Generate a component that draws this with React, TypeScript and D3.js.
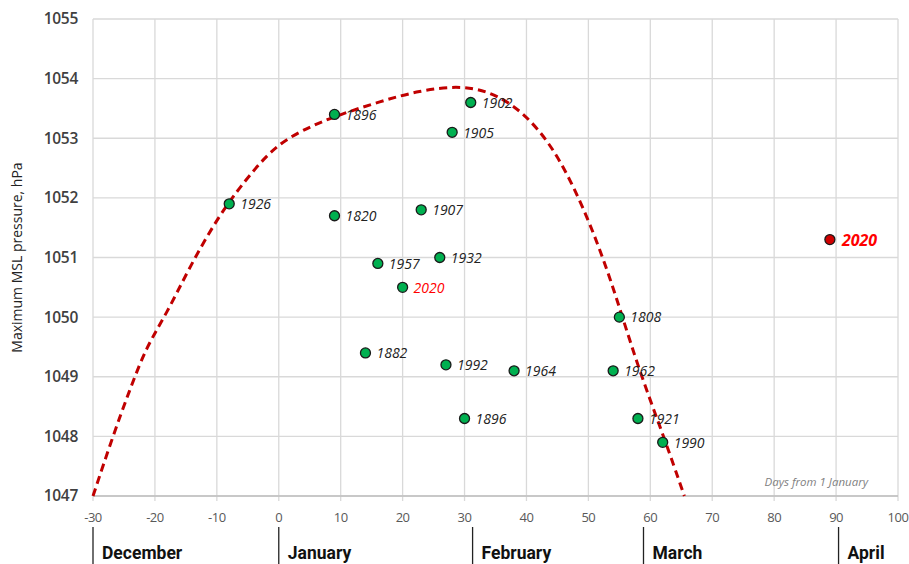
import * as d3 from "d3";
import React, { useEffect, useRef } from "react";

// observed cases: day offset from 1 January, max MSL pressure (hPa), year
const days = [-8, 9, 31, 28, 9, 23, 16, 26, 20, 55, 14, 27, 38, 54, 30, 58, 62];
const pressures = [1051.9, 1053.4, 1053.6, 1053.1, 1051.7, 1051.8, 1050.9, 1051.0, 1050.5, 1050.0, 1049.4, 1049.2, 1049.1, 1049.1, 1048.3, 1048.3, 1047.9];
const years = ["1926", "1896", "1902", "1905", "1820", "1907", "1957", "1932", "2020", "1808", "1882", "1992", "1964", "1962", "1896", "1921", "1990"];

// the 2020 highlight on the right
const highlightDay = 89;
const highlightPressure = 1051.3;
const highlightLabel = "2020";

// dashed trend line
const trendDays = [-30, -26.8, -24.1, -21.4, -18.1, -14.4, -9.5, -4.1, 0.2, 5.6, 9.4, 16.4, 22.8, 28.8, 33.6, 37.9, 41.7, 45.5, 49.8, 53.1, 55.2, 58.4, 62.2, 65.5];
const trendPressures = [1047.0, 1048.0, 1048.77, 1049.5, 1050.06, 1050.84, 1051.74, 1052.47, 1052.94, 1053.22, 1053.38, 1053.62, 1053.8, 1053.88, 1053.8, 1053.56, 1053.19, 1052.64, 1051.7, 1050.78, 1050.1, 1049.05, 1047.99, 1047.0];

const xTicks = [-30, -20, -10, 0, 10, 20, 30, 40, 50, 60, 70, 80, 90, 100];
const yTicks = [1047, 1048, 1049, 1050, 1051, 1052, 1053, 1054, 1055];

const months = ["December", "January", "February", "March", "April"];
const monthStarts = [-30, 0, 31.3, 58.9, 90.4];

const W = 909;
const H = 564;

export default function App() {
  const ref = useRef<SVGSVGElement>(null);

  useEffect(() => {
    const svg = d3.select(ref.current);
    svg.selectAll("*").remove();

    const margin = { top: 19, right: 11, bottom: 68, left: 93 };
    const font = "'Open Sans', 'DejaVu Sans', sans-serif";

    const x = d3.scaleLinear().domain([-30, 100]).range([margin.left, W - margin.right]);
    const y = d3.scaleLinear().domain([1047, 1055]).range([H - margin.bottom, margin.top]);

    svg.append("rect").attr("width", W).attr("height", H).attr("fill", "#fff");

    // grid
    const grid = svg.append("g").attr("stroke", "#d9d9d9").attr("stroke-width", 1.3);
    grid.selectAll("line.v").data(xTicks).join("line")
      .attr("x1", d => x(d)).attr("x2", d => x(d))
      .attr("y1", y(1055)).attr("y2", y(1047) + 5);
    grid.selectAll("line.h").data(yTicks).join("line")
      .attr("x1", x(-30)).attr("x2", x(100))
      .attr("y1", d => y(d)).attr("y2", d => y(d));
    svg.append("line")
      .attr("x1", x(-30)).attr("x2", x(100))
      .attr("y1", y(1047)).attr("y2", y(1047))
      .attr("stroke", "#bfbfbf").attr("stroke-width", 1.5);

    // tick labels
    svg.append("g").selectAll("text").data(yTicks).join("text")
      .attr("x", x(-30) - 15).attr("y", d => y(d))
      .attr("dy", "0.35em").attr("text-anchor", "end")
      .attr("font-family", font).attr("font-size", 15.5).attr("font-weight", 600)
      .attr("fill", "#404040").attr("letter-spacing", -0.3)
      .text(d => d);
    svg.append("g").selectAll("text").data(xTicks).join("text")
      .attr("x", d => x(d)).attr("y", y(1047) + 21)
      .attr("dy", "0.35em").attr("text-anchor", "middle")
      .attr("font-family", font).attr("font-size", 13).attr("fill", "#595959")
      .attr("letter-spacing", -0.5)
      .text(d => d);

    svg.append("text")
      .attr("transform", `translate(22,${(y(1055) + y(1047)) / 2}) rotate(-90)`)
      .attr("text-anchor", "middle")
      .attr("font-family", font).attr("font-size", 14).attr("fill", "#222")
      .text("Maximum MSL pressure, hPa");

    svg.append("text")
      .attr("x", 868).attr("y", 486)
      .attr("text-anchor", "end")
      .attr("font-family", font).attr("font-size", 11.5).attr("font-style", "italic")
      .attr("fill", "#7f7f7f")
      .text("Days from 1 January");

    // months
    const m = svg.append("g");
    m.selectAll("line").data(monthStarts).join("line")
      .attr("x1", d => x(d)).attr("x2", d => x(d))
      .attr("y1", 527).attr("y2", H)
      .attr("stroke", "#222").attr("stroke-width", 1.3);
    m.selectAll("text").data(months).join("text")
      .attr("x", (d, i) => x(monthStarts[i]) + 9).attr("y", 559)
      .attr("font-family", "Roboto, 'Open Sans', sans-serif").attr("font-weight", "bold")
      .attr("font-size", 17.5).attr("fill", "#111")
      .text(d => d);

    // trend line
    const line = d3.line<number>()
      .x((d, i) => x(trendDays[i]))
      .y(d => y(d))
      .curve(d3.curveBasis);
    svg.append("path")
      .attr("d", line(trendPressures))
      .attr("fill", "none").attr("stroke", "#c00000")
      .attr("stroke-width", 3).attr("stroke-dasharray", "8,5");

    // points
    const pts = svg.append("g");
    pts.selectAll("circle").data(days).join("circle")
      .attr("cx", d => x(d)).attr("cy", (d, i) => y(pressures[i]))
      .attr("r", 5).attr("fill", "#00b050")
      .attr("stroke", "#1a1a1a").attr("stroke-width", 1.3);
    pts.selectAll("text").data(years).join("text")
      .attr("x", (d, i) => x(days[i]) + 11).attr("y", (d, i) => y(pressures[i]))
      .attr("dy", "0.38em")
      .attr("font-family", font).attr("font-style", "italic").attr("font-size", 14)
      .attr("fill", (d, i) => (d === "2020" ? "#ff0000" : "#222"))
      .text(d => d);

    svg.append("circle")
      .attr("cx", x(highlightDay)).attr("cy", y(highlightPressure))
      .attr("r", 5).attr("fill", "#d00000")
      .attr("stroke", "#1a1a1a").attr("stroke-width", 1.3);
    svg.append("text")
      .attr("x", x(highlightDay) + 12).attr("y", y(highlightPressure))
      .attr("dy", "0.38em")
      .attr("font-family", font).attr("font-style", "italic").attr("font-weight", "bold")
      .attr("font-size", 16).attr("fill", "#ff0000")
      .text(highlightLabel);
  }, []);

  return (
    <svg ref={ref} width={W} height={H}
      style={{ position: "absolute", left: 0, top: 0, display: "block" }} />
  );
}
